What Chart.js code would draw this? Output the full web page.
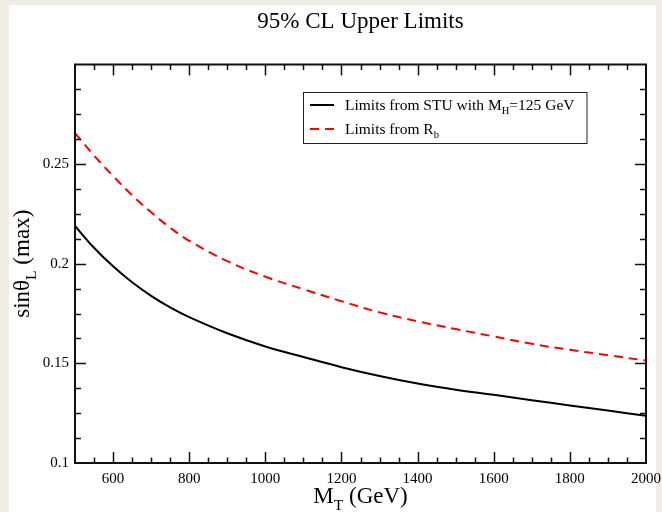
<!DOCTYPE html>
<html><head><meta charset="utf-8">
<script src="https://cdn.jsdelivr.net/npm/chart.js@4/dist/chart.umd.min.js"></script>
<style>html,body{margin:0;padding:0;background:#eeeee6;overflow:hidden}
#wrap{position:absolute;left:0;top:0;width:662px;height:512px}</style></head>
<body><div id="wrap"><canvas id="c" width="662" height="512"></canvas></div>
<script>
// ---- data ----
const mT = [500,550,600,650,700,750,800,900,1000,1100,1200,1300,1400,1500,1600,1700,1800,1900,2000];
const stuLimits = [0.2190,0.2080,0.1987,0.1907,0.1839,0.1781,0.1732,0.1651,0.1585,0.1532,0.1481,0.1437,0.1399,0.1368,0.1342,0.1315,0.1289,0.1263,0.1237];
const rbLimits  = [0.2655,0.2543,0.2440,0.2344,0.2258,0.2181,0.2115,0.2013,0.1935,0.1872,0.1812,0.1756,0.1711,0.1672,0.1635,0.1598,0.1568,0.1541,0.1514];
const xTickLabels = [600,800,1000,1200,1400,1600,1800,2000];
const yTickLabels = [0.1,0.15,0.2,0.25];
const titleText = '95% CL Upper Limits';
const legendEntries = [
  [{t:'Limits from STU with M'},{t:'H',sub:true},{t:'=125 GeV'}],
  [{t:'Limits from R'},{t:'b',sub:true}]
];
const xTitle = [{t:'M'},{t:'T',sub:true},{t:' (GeV)'}];
const yTitle = [{t:'sinθ'},{t:'L',sub:true},{t:' (max)'}];

const SERIF = "'Liberation Serif','Times New Roman',serif";

function richWidth(ctx, parts, size){
  let w=0;
  for(const p of parts){ctx.font=(p.sub?size*0.68:size)+'px '+SERIF; w+=ctx.measureText(p.t).width;}
  return w;
}
function drawRich(ctx, parts, x, y, size){
  let cx=x;
  for(const p of parts){
    const s=p.sub?size*0.68:size;
    ctx.font=s+'px '+SERIF;
    ctx.fillText(p.t,cx,y+(p.sub?size*0.3:0));
    cx+=ctx.measureText(p.t).width;
  }
}

const decor = {
  id:'decor',
  beforeDraw(chart){
    const ctx=chart.ctx;
    ctx.save();
    ctx.fillStyle='#eeeee6'; ctx.fillRect(0,0,chart.width,chart.height);
    ctx.fillStyle='#ffffff'; ctx.fillRect(9,5,647,chart.height-5);
    ctx.restore();
  },
  afterDraw(chart){
    const ctx=chart.ctx, a=chart.chartArea, xs=chart.scales.x, ys=chart.scales.y;
    ctx.save();
    ctx.strokeStyle='#111'; ctx.lineWidth=1.5;
    // ticks
    ctx.beginPath();
    for(const t of xs.ticks){
      const v=t.value; if(v<=xs.min||v>=xs.max) continue;
      const px=Math.round(xs.getPixelForValue(v))+0.5;
      const len=(v%200===0)?11:5.5;
      ctx.moveTo(px,a.bottom); ctx.lineTo(px,a.bottom-len);
      ctx.moveTo(px,a.top); ctx.lineTo(px,a.top+len);
    }
    for(const t of ys.ticks){
      const v=t.value; if(v<=ys.min+1e-9||v>=ys.max-1e-9) continue;
      const py=Math.round(ys.getPixelForValue(v))+0.5;
      const r=v/0.05, major=Math.abs(r-Math.round(r))<1e-6;
      const len=major?11:6;
      ctx.moveTo(a.left,py); ctx.lineTo(a.left+len,py);
      ctx.moveTo(a.right,py); ctx.lineTo(a.right-len,py);
    }
    ctx.stroke();
    // frame
    ctx.lineWidth=2; ctx.strokeStyle='#111';
    ctx.strokeRect(a.left,a.top,a.right-a.left,a.bottom-a.top);
    // title
    ctx.fillStyle='#000'; ctx.textBaseline='alphabetic';
    ctx.font='23px '+SERIF; ctx.textAlign='center';
    ctx.fillText(titleText,(a.left+a.right)/2,28);
    ctx.textAlign='left';
    // x title
    let w=richWidth(ctx,xTitle,23);
    drawRich(ctx,xTitle,(a.left+a.right)/2-w/2,503,23);
    // y title
    ctx.save();
    ctx.translate(29,(a.top+a.bottom)/2);
    ctx.rotate(-Math.PI/2);
    w=richWidth(ctx,yTitle,23);
    drawRich(ctx,yTitle,-w/2,0,23);
    ctx.restore();
    // legend
    const lx=303.5, ly=92.5, lw=283.5, lh=51;
    ctx.fillStyle='#fff'; ctx.fillRect(lx,ly,lw,lh);
    ctx.lineWidth=1; ctx.strokeStyle='#222'; ctx.strokeRect(lx,ly,lw,lh);
    const ds=chart.data.datasets;
    const rowsY=[109.5,133.5];
    for(let i=0;i<legendEntries.length;i++){
      const y=rowsY[i];
      ctx.beginPath();
      ctx.strokeStyle=ds[i].borderColor; ctx.lineWidth=2;
      ctx.setLineDash(ds[i].borderDash||[]);
      ctx.moveTo(310,y-4.5); ctx.lineTo(334,y-4.5); ctx.stroke();
      ctx.setLineDash([]);
      ctx.fillStyle='#000';
      drawRich(ctx,legendEntries[i],345,y,15.5);
    }
    ctx.restore();
  }
};

new Chart(document.getElementById('c'),{
  type:'line',
  data:{datasets:[
    {label:'Limits from STU with MH=125 GeV',data:mT.map((x,i)=>({x,y:stuLimits[i]})),borderColor:'#000000',borderWidth:2,pointRadius:0,tension:0.4,fill:false},
    {label:'Limits from Rb',data:mT.map((x,i)=>({x,y:rbLimits[i]})),borderColor:'#ff0000',borderWidth:2,borderDash:[9,6],pointRadius:0,tension:0.4,fill:false}
  ]},
  options:{
    responsive:false, devicePixelRatio:1, animation:false,
    layout:{padding:{left:0,top:64.5,right:16,bottom:0}},
    plugins:{legend:{display:false},title:{display:false},tooltip:{enabled:false}},
    scales:{
      x:{type:'linear',min:500,max:2000,
        grid:{display:false,drawTicks:false},border:{display:false},
        ticks:{stepSize:50,autoSkip:false,maxRotation:0,padding:7,color:'#000',
          font:{family:SERIF,size:15},
          callback:(v)=>xTickLabels.includes(v)?String(v):''},
        afterFit:(s)=>{s.height=49;s.paddingRight=0;s.paddingLeft=0;}},
      y:{type:'linear',min:0.1,max:0.3,
        grid:{display:false,drawTicks:false},border:{display:false},
        ticks:{stepSize:0.0125,autoSkip:false,padding:6,color:'#000',
          font:{family:SERIF,size:15},
          callback:(v)=>{const m=yTickLabels.find(t=>Math.abs(t-v)<1e-6);return m!==undefined?String(m):'';}},
        afterFit:(s)=>{s.width=75;s.paddingTop=0;s.paddingBottom=0;}}
    }
  },
  plugins:[decor]
});
</script></body></html>
